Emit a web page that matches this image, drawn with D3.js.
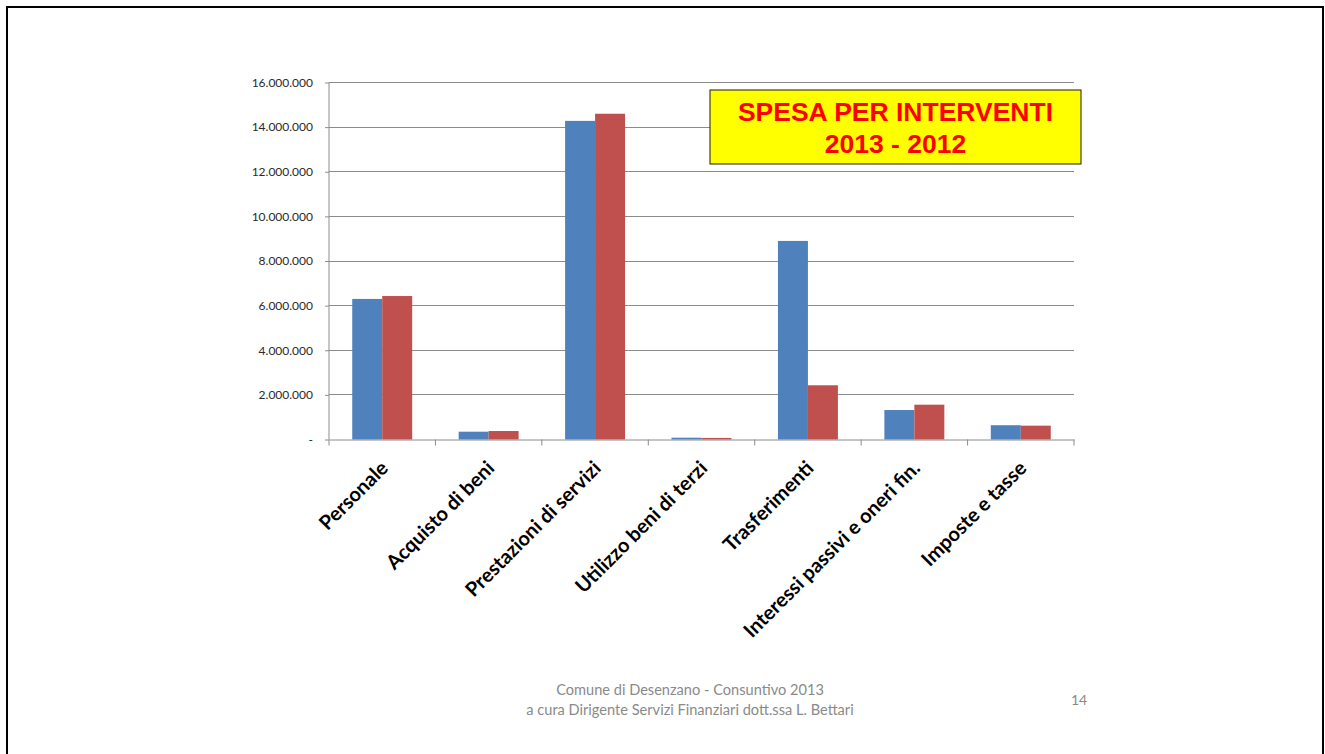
<!DOCTYPE html>
<html>
<head>
<meta charset="utf-8">
<script src="https://cdn.jsdelivr.net/npm/d3@7"></script>
<style>
  html, body { margin: 0; padding: 0; background: #fff; }
  svg { display: block; }
</style>
</head>
<body>
<svg id="chart" width="1325" height="754"></svg>
<script>
// Spending by intervention type, 2013 vs 2012 (euro)
const categories = [
  "Personale",
  "Acquisto di beni",
  "Prestazioni di servizi",
  "Utilizzo beni di terzi",
  "Trasferimenti",
  "Interessi passivi e oneri fin.",
  "Imposte e tasse"
];
const values2013 = [6300000, 350000, 14280000, 80000, 8900000, 1320000, 640000];
const values2012 = [6430000, 380000, 14600000, 70000, 2430000, 1560000, 620000];
const yTicks = [0, 2000000, 4000000, 6000000, 8000000, 10000000, 12000000, 14000000, 16000000];
const seriesNames = ["2013", "2012"];
const titleLines = ["SPESA PER INTERVENTI", "2013 - 2012"];
const footerLines = ["Comune di Desenzano - Consuntivo 2013", "a cura Dirigente Servizi Finanziari dott.ssa L. Bettari"];
const pageNumber = "14";

const svg = d3.select("#chart");

// slide frame
svg.append("rect")
  .attr("x", 7).attr("y", 7).attr("width", 1316).attr("height", 760)
  .attr("fill", "none").attr("stroke", "#000").attr("stroke-width", 2);

const plot = { left: 329, right: 1074, top: 82.5, bottom: 439.5 };

const x = d3.scaleBand().domain(categories).range([plot.left, plot.right]).paddingInner(0).paddingOuter(0);
const y = d3.scaleLinear().domain([0, 16000000]).range([plot.bottom, plot.top]);
const xs = d3.scaleBand().domain(seriesNames).range([0, x.bandwidth()]).paddingInner(0).paddingOuter(0.775);

const colors = { "2013": "#4F81BD", "2012": "#C0504D" };

// horizontal gridlines
svg.append("g").selectAll("line").data(yTicks.filter(d => d > 0)).join("line")
  .attr("x1", plot.left).attr("x2", plot.right)
  .attr("y1", d => y(d)).attr("y2", d => y(d))
  .attr("stroke", "#8c8c8c").attr("stroke-width", 1).attr("shape-rendering", "crispEdges");

// bars
const rows = categories.map((c, i) => ({ c, vals: [
  { s: "2013", v: values2013[i] },
  { s: "2012", v: values2012[i] }
]}));
const groups = svg.append("g").selectAll("g").data(rows).join("g")
  .attr("transform", d => `translate(${x(d.c)},0)`);
groups.selectAll("rect").data(d => d.vals).join("rect")
  .attr("x", d => xs(d.s)).attr("width", xs.bandwidth())
  .attr("y", d => y(d.v)).attr("height", d => y(0) - y(d.v))
  .attr("fill", d => colors[d.s]);

// y axis
const fmt = v => v === 0 ? "-" : d3.format(",")(v).replace(/,/g, ".");
const yAxis = svg.append("g").attr("transform", `translate(${plot.left},0)`)
  .call(d3.axisLeft(y).tickValues(yTicks).tickFormat(fmt).tickSize(4).tickPadding(12));
yAxis.select(".domain").attr("stroke", "#8c8c8c").attr("d", `M-0,${plot.top}V${plot.bottom}`);
yAxis.selectAll(".tick line").attr("stroke", "#8c8c8c");
yAxis.selectAll(".tick text")
  .attr("font-family", "Lato, 'Liberation Sans', sans-serif").attr("font-size", 12).attr("fill", "#2a2a2a");

// x axis
const xAxis = svg.append("g").attr("transform", `translate(0,${plot.bottom})`)
  .call(d3.axisBottom(x).tickSize(0).tickFormat(""));
xAxis.select(".domain").attr("stroke", "#8c8c8c");
const edges = categories.map(c => x(c)).concat([plot.right]);
xAxis.selectAll("line.sep").data(edges).join("line").attr("class", "sep")
  .attr("x1", d => d).attr("x2", d => d).attr("y1", 0).attr("y2", 6)
  .attr("stroke", "#8c8c8c");

// rotated category labels
svg.append("g").selectAll("text").data(categories).join("text")
  .attr("transform", d => `translate(${x(d) + x.bandwidth() / 2 + 7},${plot.bottom + 30}) rotate(-45)`)
  .attr("text-anchor", "end")
  .attr("font-family", "Lato, 'Open Sans', sans-serif").attr("font-weight", "bold")
  .attr("font-size", 20).attr("fill", "#000")
  .text(d => d);

// title box
const tb = svg.append("g");
tb.append("rect").attr("x", 710).attr("y", 90).attr("width", 371).attr("height", 74)
  .attr("fill", "#ffff00").attr("stroke", "#1a1a1a").attr("stroke-width", 1);
tb.selectAll("text").data(titleLines).join("text")
  .attr("x", 895.5).attr("y", (d, i) => 121 + i * 31.7)
  .attr("text-anchor", "middle")
  .attr("font-family", "'Liberation Sans', Arial, sans-serif").attr("font-weight", "bold")
  .attr("font-size", 26.5).attr("fill", "#ff0000")
  .text(d => d);

// footer
svg.append("g").selectAll("text").data(footerLines).join("text")
  .attr("x", 690).attr("y", (d, i) => 695 + i * 19.5)
  .attr("text-anchor", "middle")
  .attr("font-family", "Lato, 'Open Sans', sans-serif").attr("font-size", 14.6).attr("fill", "#8a8a8a")
  .text(d => d);
svg.append("text").attr("x", 1079).attr("y", 705).attr("text-anchor", "middle")
  .attr("font-family", "Lato, 'Open Sans', sans-serif").attr("font-size", 14).attr("fill", "#8a8a8a")
  .text(pageNumber);
</script>
</body>
</html>
